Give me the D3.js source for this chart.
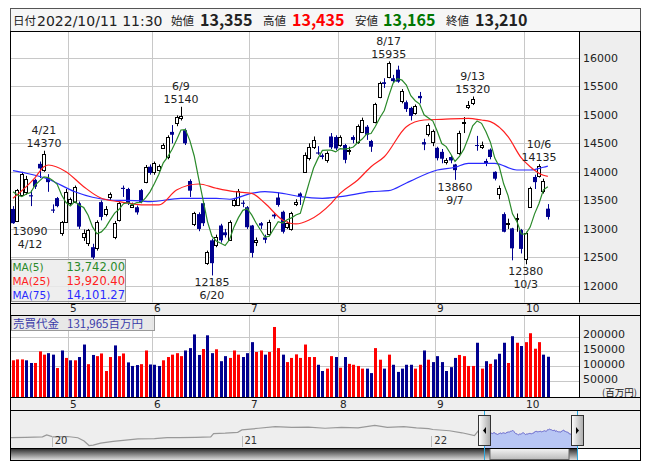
<!DOCTYPE html>
<html><head><meta charset="utf-8">
<script src="https://cdnjs.cloudflare.com/ajax/libs/d3/7.8.5/d3.min.js"></script>
<style>body{margin:0;background:#fff}svg{display:block}</style>
</head><body><svg id="c" width="653" height="470"></svg>
<script>
// ---------------- DATA ----------------
const dates = ["4/12","4/13","4/14","4/15","4/18","4/19","4/20","4/21","4/22","4/25","4/26","4/27","4/28",
"5/2","5/6","5/9","5/10","5/11","5/12","5/13","5/16","5/17","5/18","5/19","5/20","5/23","5/24","5/25","5/26","5/27","5/30","5/31",
"6/1","6/2","6/3","6/6","6/7","6/8","6/9","6/10","6/13","6/14","6/15","6/16","6/17","6/20","6/21","6/22","6/23","6/24","6/27","6/28","6/29","6/30",
"7/1","7/4","7/5","7/6","7/7","7/8","7/11","7/12","7/13","7/14","7/15","7/19","7/20","7/21","7/22","7/25","7/26","7/27","7/28","7/29",
"8/1","8/2","8/3","8/4","8/5","8/8","8/9","8/10","8/12","8/15","8/16","8/17","8/18","8/19","8/22","8/23","8/24","8/25","8/26","8/29","8/30","8/31",
"9/1","9/2","9/5","9/6","9/7","9/8","9/9","9/12","9/13","9/14","9/15","9/16","9/20","9/21","9/22","9/26","9/27","9/28","9/29","9/30",
"10/3","10/4","10/5","10/6","10/7","10/11"];
const opens = [13350,13140,13600,13650,13590,13860,14140,14030,13890,13340,13540,12930,13130,
13450,13470,13450,12860,12750,12680,12660,13470,13260,13560,12860,13160,13720,13700,13390,13380,13680,13830,14090,
13990,14030,14420,14260,14700,14860,14950,14730,13840,13090,13260,13450,12400,12800,12720,13060,12940,12810,13420,13420,13460,13380,
13060,12760,13100,12850,12910,13250,13550,13300,13030,13000,13440,13620,14000,14240,14440,14340,14290,14200,14620,14610,
14470,14470,14370,14610,14520,14700,14790,14540,14870,15310,15570,15660,15640,15790,15240,15220,15120,15030,15330,14520,14660,14520,
14420,14350,14170,14260,14130,14330,14850,15150,15200,14470,14440,14190,14390,14000,13610,13260,13100,13010,13180,12980,
12470,13380,13910,13930,13670,13355];
const highs = [13400,13700,14000,13930,13680,13880,14180,14370,13960,13430,13560,13140,13700,
13550,13760,13480,12990,13000,12740,13150,13500,13400,13640,13140,13470,13760,13720,13460,13410,13700,14120,14130,
14180,14130,14500,14640,14820,14990,15140,14760,13870,13300,13290,13470,12620,12830,12900,13090,13000,13150,13540,13700,13500,13400,
13070,12850,13120,12900,13160,13280,13640,13320,13130,13300,13520,13640,14340,14500,14620,14450,14320,14360,14680,14640,
14640,14490,14440,14640,14830,14950,14820,14560,15210,15580,15640,15935,15700,15860,15450,15250,15140,15180,15400,14580,14850,14740,
14440,14400,14240,14290,14140,14720,14960,15240,15320,14630,14530,14230,14410,14010,13760,13290,13180,13020,13270,13000,
12950,13740,13950,14135,13880,13435];
const lows = [13090,13120,13580,13600,13400,13700,13890,14000,13650,13280,13380,12880,13110,
13420,13450,13000,12790,12700,12450,12620,13150,13220,13510,12820,13130,13560,13420,13380,13250,13450,13800,13950,
13950,14000,14400,14220,14500,14800,14900,14470,13560,13050,12960,13050,12370,12185,12680,12760,12850,12790,13390,13400,13380,13000,
12500,12700,13000,12750,12880,13180,13390,12920,13000,12970,13400,13420,13980,14200,14400,14300,14220,14160,14400,14380,
14440,14150,14300,14500,14490,14680,14560,14350,14850,15290,15470,15640,15560,15560,15200,15050,14900,15000,15200,14380,14620,14450,
14200,14150,14130,14150,13860,14300,14680,15100,15170,14370,14400,14100,14220,13850,13520,12940,13000,12450,12950,12570,
12380,13370,13700,13900,13620,13165];
const closes = [13100,13680,13960,13880,13570,13740,14060,14310,13820,13320,13400,13120,13650,
13520,13730,13040,12930,12980,12500,13120,13210,13350,13610,13100,13450,13700,13450,13420,13290,13470,14090,13980,
14150,14100,14470,14610,14650,14960,14980,14500,13670,13280,13000,13100,12590,12400,12860,12800,12890,13120,13510,13670,13440,13030,
12580,12800,13060,12810,13120,13220,13420,12950,13100,13280,13470,13560,14300,14440,14560,14320,14260,14330,14430,14410,
14610,14210,14390,14560,14800,14910,14650,14440,15190,15550,15540,15910,15590,15580,15420,15100,14980,15150,15290,14480,14820,14710,
14240,14230,14210,14200,14030,14680,14870,15180,15270,14460,14470,14140,14260,13880,13720,12950,13110,12660,13200,12650,
12930,13720,13820,14110,13840,13210];
// trading value (百万円)
const volumes = [120000,123000,123000,120000,111000,111000,150000,139000,144000,139000,94000,153000,128000,
120000,120000,131000,173000,107000,138000,134000,143000,84000,131000,170000,134000,143000,113000,101000,104000,107000,153000,106000,
105000,101000,120000,131000,139000,144000,134000,153000,161000,207000,138000,158000,204000,144000,157000,117000,134000,128000,153000,139000,131000,144000,
181000,148000,153000,139000,148000,232000,161000,139000,114000,128000,140000,128000,173000,131000,131000,105000,84000,92000,134000,131000,
95000,131000,108000,105000,101000,92000,92000,77000,161000,122000,92000,139000,105000,81000,92000,105000,105000,92000,105000,153000,122000,114000,
134000,114000,84000,97000,128000,138000,134000,101000,101000,179000,92000,117000,108000,123000,142000,179000,111000,201000,179000,168000,
181000,211000,159000,181000,139000,131965];
const volUp = [1,1,1,0,0,1,1,1,0,0,1,0,1,
0,1,0,0,1,0,1,1,1,1,0,1,1,0,0,0,1,1,0,
0,0,1,1,1,1,1,0,0,0,0,1,0,0,1,0,0,1,1,1,0,0,
0,1,1,0,1,1,1,0,1,1,1,1,1,1,1,0,0,1,1,0,
1,0,1,1,1,1,0,0,1,1,0,1,0,0,0,0,0,1,1,0,1,0,
0,0,0,0,0,1,1,1,1,0,1,0,1,0,0,0,1,0,1,0,
1,1,1,1,0,0];
// moving averages: MA5 head (before enough history) and read samples for MA25 / MA75
const ma5Head = [13652,13594,13565,13612];
const ma25Idx = [0,5,7,8,12,16,20,24,30,33,37,42,46,50,54,57,61,64,67,72,74,78,81,84,89,93,97,103,106,108,112,115,117,120,121];
const ma25Val = [13537,13900,14090,14120,14003,13740,13537,13477,13420,13420,13682,13787,13712,13652,13624,13449,13157,13087,13157,13449,13624,13857,14090,14265,14791,14908,14920,14938,14908,14879,14616,14243,14090,13940,13920];
const ma75Idx = [0,3,8,14,18,22,29,31,38,46,49,54,57,61,65,70,74,81,85,89,96,100,103,109,114,117,120,121];
const ma75Val = [14020,13975,13870,13652,13555,13507,13490,13477,13537,13537,13520,13624,13652,13624,13565,13537,13565,13652,13670,13805,14032,14080,14150,14150,14032,14032,14080,14101];
const priceTicks = [12000,12500,13000,13500,14000,14500,15000,15500,16000];
const volTicks = [50000,100000,150000,200000];
const highMarks = ["4/21","6/9","8/17","9/13","10/6"];
const lowMarks = ["4/12","6/20","9/7","10/3"];
const legendRows = [["MA(5)","13,742.00","#2a8a2a"],["MA(25)","13,920.40","#ff2020"],["MA(75)","14,101.27","#2a2aff"]];
const headerItems = [["日付","2022/10/11 11:30","#222",false],["始値","13,355","#222",true],["高値","13,435","#ff0000",true],["安値","13,165","#007700",true],["終値","13,210","#222",true]];
const volLabel = ["売買代金","131,965百万円"];
// navigator (long history, decimal year -> close-level)
const navYears = [2019.786,2019.865,2019.952,2019.974,2020.007,2020.083,2020.138,2020.171,2020.197,2020.219,2020.258,2020.324,2020.39,2020.455,2020.542,2020.608,2020.674,2020.761,2020.838,2020.853,2020.914,2020.98,2021.002,2021.09,2021.178,2021.265,2021.352,2021.44,2021.526,2021.614,2021.702,2021.768,2021.855,2021.921,2021.986,2022.008,2022.095,2022.161,2022.227,2022.248];
const navVals = [10650,10900,11150,12400,11150,11400,10650,8650,5900,6150,7400,8400,9150,9900,10150,10650,10650,10900,11150,13150,13400,13900,15400,16400,17400,16900,17150,16400,16900,16650,18150,16900,17400,16650,16150,15650,14900,13650,11900,14900];
const navYearLabels = [2020,2021,2022];
const navSelStart = 2022.277, navSelEnd = 2022.767;

// ---------------- LAYOUT ----------------
const svg = d3.select("#c");
const L = 11, R = 579, RR = 640.5;
const pTop = 32, pBot = 302.5, m1Bot = 315, vTop = 315, vBot = 397, m2Bot = 410;
const navR = 577;
const N = dates.length;
const x = d3.scaleLinear().domain([-0.45, 128.05]).range([L, R]);
const y = d3.scaleLinear().domain([12000, 16000]).range([286, 57.7]);
const yv = d3.scaleLinear().domain([0, 200000]).range([396, 336.5]);
const FONT = "'DejaVu Sans', Verdana, sans-serif";
const JFONT = "'Noto Sans CJK JP', 'DejaVu Sans', sans-serif";
const BLUE = "#00008f", RED = "#ff0000";

// header
svg.append("rect").attr("x",10.5).attr("y",8.5).attr("width",630).attr("height",23).attr("fill","#f6f6f6").attr("stroke","#555");
const hx = [[13,37],[171,200],[263,292],[355,383],[446,475]];
headerItems.forEach((h,k)=>{
  svg.append("text").attr("x",hx[k][0]).attr("y",25).attr("font-family",JFONT).attr("font-size",11.5).attr("fill","#222").text(h[0]);
  svg.append("text").attr("x",hx[k][1]).attr("y",25.5).attr("font-family",h[3]?JFONT:FONT).attr("font-size",h[3]?16:14)
    .attr("font-weight",h[3]?"bold":"normal").attr("fill",h[2]).text(h[1]);
});

// backgrounds
svg.append("rect").attr("x",L).attr("y",pTop).attr("width",R-L).attr("height",vBot-pTop).attr("fill","#fff");
svg.append("rect").attr("x",R).attr("y",pTop).attr("width",RR-R).attr("height",vBot-pTop).attr("fill","#eeeeee");
[[pBot,m1Bot],[vBot,m2Bot]].forEach(([a,b])=>svg.append("rect").attr("x",L).attr("y",a).attr("width",RR-L).attr("height",b-a).attr("fill","#eeeeee"));

// month boundaries
const monthStarts = [];
dates.forEach((d,i)=>{ if(i>0 && d.split("/")[0]!==dates[i-1].split("/")[0]) monthStarts.push(i); });
const gx = i => Math.round(x(i) - 2.2) + 0.5;
const grid = svg.append("g").attr("stroke","#c8c8c8").attr("stroke-width",1);
monthStarts.forEach(i=>{
  grid.append("line").attr("x1",gx(i)).attr("x2",gx(i)).attr("y1",pTop).attr("y2",pBot);
  grid.append("line").attr("x1",gx(i)).attr("x2",gx(i)).attr("y1",vTop).attr("y2",vBot);
});
priceTicks.forEach(t=>grid.append("line").attr("x1",L).attr("x2",R).attr("y1",Math.round(y(t))+0.5).attr("y2",Math.round(y(t))+0.5));
volTicks.forEach(t=>grid.append("line").attr("x1",L).attr("x2",R).attr("y1",Math.round(yv(t))+0.5).attr("y2",Math.round(yv(t))+0.5));

// axis labels
const ax = svg.append("g").attr("font-family",FONT).attr("font-size",11).attr("fill","#222");
priceTicks.forEach(t=>ax.append("text").attr("x",583).attr("y",y(t)).attr("dy","0.36em").text(t));
volTicks.forEach(t=>ax.append("text").attr("x",583).attr("y",yv(t)-2).attr("dy","0.36em").text(t));
ax.append("text").attr("x",637).attr("y",395.5).attr("text-anchor","end").attr("font-family",JFONT).attr("font-size",9.5).text("(百万円)");
monthStarts.forEach(i=>{
  const m = dates[i].split("/")[0];
  ax.append("text").attr("x",gx(i)+1.5).attr("y",311.5).attr("font-size",10.5).text(m);
  ax.append("text").attr("x",gx(i)+1.5).attr("y",407.5).attr("font-size",10.5).text(m);
});

// candles
const cg = svg.append("g");
for(let i=0;i<N;i++){
  const xr = Math.round(x(i));
  const up = closes[i] >= opens[i];
  const col = up ? "#000" : BLUE;
  cg.append("line").attr("x1",xr+0.5).attr("x2",xr+0.5).attr("y1",y(highs[i])).attr("y2",y(lows[i])).attr("stroke",col);
  const yt = y(Math.max(opens[i],closes[i])), yb = y(Math.min(opens[i],closes[i]));
  if(up){
    cg.append("rect").attr("x",xr-1.5).attr("y",Math.round(yt)+0.5).attr("width",3).attr("height",Math.max(1,Math.round(yb-yt))).attr("fill","#fff").attr("stroke","#000");
  } else {
    cg.append("rect").attr("x",xr-2).attr("y",yt).attr("width",4).attr("height",Math.max(1,yb-yt)).attr("fill",BLUE);
  }
}
// moving averages
const ma5 = closes.map((c,i)=> i<4 ? ma5Head[i] : d3.mean(closes.slice(i-4,i+1)));
const line = d3.line().x(d=>x(d[0])).y(d=>y(d[1]));
const sm = d3.line().x(d=>x(d[0])).y(d=>y(d[1])).curve(d3.curveMonotoneX);
svg.append("path").attr("d",sm(ma75Idx.map((k,j)=>[k,ma75Val[j]]))).attr("fill","none").attr("stroke","#2a2aff").attr("stroke-width",1.2);
svg.append("path").attr("d",sm(ma25Idx.map((k,j)=>[k,ma25Val[j]]))).attr("fill","none").attr("stroke","#ff2020").attr("stroke-width",1.2);
svg.append("path").attr("d",line(ma5.map((v,i)=>[i,v]))).attr("fill","none").attr("stroke","#2a8a2a").attr("stroke-width",1.2);

// annotations
const an = svg.append("g").attr("font-family",FONT).attr("font-size",11).attr("fill","#222").attr("text-anchor","middle");
const clampX = (cx)=> Math.max(L+19, Math.min(R-19, cx));
highMarks.forEach(d=>{ const i=dates.indexOf(d); const cx=clampX(x(i)); const yy=y(highs[i]);
  an.append("text").attr("x",cx).attr("y",yy-20.5).attr("dy","0.36em").text(d);
  an.append("text").attr("x",cx).attr("y",yy-7.5).attr("dy","0.36em").text(highs[i]); });
lowMarks.forEach(d=>{ const i=dates.indexOf(d); const cx=clampX(x(i)); const yy=y(lows[i]);
  an.append("text").attr("x",cx).attr("y",yy+7).attr("dy","0.36em").text(lows[i]);
  an.append("text").attr("x",cx).attr("y",yy+20).attr("dy","0.36em").text(d); });

// MA legend
svg.append("rect").attr("x",11.5).attr("y",259.5).attr("width",114).attr("height",42).attr("fill","rgba(235,235,235,0.85)").attr("stroke","#999");
const lg = svg.append("g").attr("font-family",FONT).attr("font-size",11.5);
legendRows.forEach((r,k)=>{
  lg.append("text").attr("x",12.5).attr("y",267+k*14).attr("dy","0.36em").attr("fill",r[2]).attr("font-size",10.5).text(r[0]);
  lg.append("text").attr("x",125).attr("y",267+k*14).attr("dy","0.36em").attr("text-anchor","end").attr("fill",r[2]).text(r[1]);
});

// volume bars
const vg = svg.append("g");
for(let i=0;i<N;i++){
  const xr = Math.round(x(i));
  vg.append("rect").attr("x",xr-1).attr("width",3).attr("y",yv(volumes[i])).attr("height",vBot-yv(volumes[i])).attr("fill",volUp[i]?RED:BLUE);
}
svg.append("rect").attr("x",11.5).attr("y",315.5).attr("width",143).attr("height",15).attr("fill","rgba(230,230,230,0.9)").attr("stroke","#999");
const vt = svg.append("text").attr("x",13).attr("y",328).attr("font-family",JFONT).attr("font-size",11.5).attr("fill","#3a3aa8");
vt.append("tspan").text(volLabel[0]);
vt.append("tspan").attr("dx",8).text(volLabel[1]);

// frame lines
const fr = svg.append("g").attr("stroke","#000").attr("fill","none");
fr.append("rect").attr("x",10.5).attr("y",31.5).attr("width",630).attr("height",429);
[pBot,m1Bot,vBot,m2Bot].forEach(v=>fr.append("line").attr("x1",10.5).attr("x2",RR).attr("y1",Math.round(v)+0.5).attr("y2",Math.round(v)+0.5));
fr.append("line").attr("x1",R+0.5).attr("x2",R+0.5).attr("y1",pTop).attr("y2",pBot);
fr.append("line").attr("x1",R+0.5).attr("x2",R+0.5).attr("y1",vTop).attr("y2",vBot);

// navigator
const nx = d3.scaleLinear().domain([2019.786, navSelEnd]).range([11, navR]);
const ny = d3.scaleLinear().domain([5000, 19000]).range([447, 424]);
svg.append("rect").attr("x",11).attr("y",411).attr("width",629).attr("height",37).attr("fill","#eeeeee");
const selYears = d3.range(N).map(i=> navSelStart + (navSelEnd-navSelStart)*i/(N-1));
const area = d3.area().x(d=>nx(d[0])).y0(448).y1(d=>ny(d[1]));
svg.append("path").attr("d",area(selYears.map((t,i)=>[t,closes[i]]))).attr("fill","#b8c6f4");
const nl = d3.line().x(d=>nx(d[0])).y(d=>ny(d[1]));
svg.append("path").attr("d",nl(navYears.map((t,i)=>[t,navVals[i]]))).attr("fill","none").attr("stroke","#999").attr("stroke-width",1.2);
svg.append("path").attr("d",nl(selYears.map((t,i)=>[t,closes[i]]))).attr("fill","none").attr("stroke","#6666cc").attr("stroke-width",1);
const ng = svg.append("g").attr("font-family",FONT).attr("font-size",10).attr("fill","#333");
navYearLabels.forEach(yr=>{
  ng.append("line").attr("x1",Math.round(nx(yr))+0.5).attr("x2",Math.round(nx(yr))+0.5).attr("y1",436).attr("y2",447).attr("stroke","#bbb");
  ng.append("text").attr("x",nx(yr)+3).attr("y",444).text(String(yr).slice(2));
});
// scrollbar
const defs = svg.append("defs");
const g1 = defs.append("linearGradient").attr("id","sb").attr("x1",0).attr("x2",0).attr("y1",0).attr("y2",1);
g1.append("stop").attr("offset","0").attr("stop-color","#222");
g1.append("stop").attr("offset","1").attr("stop-color","#ddd");
const g2 = defs.append("linearGradient").attr("id","th").attr("x1",0).attr("x2",0).attr("y1",0).attr("y2",1);
g2.append("stop").attr("offset","0").attr("stop-color","#f4f4f4");
g2.append("stop").attr("offset","1").attr("stop-color","#bbb");
const g3 = defs.append("linearGradient").attr("id","hd").attr("x1",0).attr("x2",1).attr("y1",0).attr("y2",0);
g3.append("stop").attr("offset","0").attr("stop-color","#fff");
g3.append("stop").attr("offset","1").attr("stop-color","#aaa");
svg.append("rect").attr("x",11).attr("y",448).attr("width",navR-11).attr("height",12).attr("fill","url(#sb)");
svg.append("rect").attr("x",nx(navSelStart)+6).attr("y",448.5).attr("width",nx(navSelEnd)-nx(navSelStart)-14).attr("height",11).attr("fill","url(#th)").attr("stroke","#666");
svg.append("line").attr("x1",10.5).attr("x2",RR).attr("y1",448.5).attr("y2",448.5).attr("stroke","#000");
[navSelStart, navSelEnd].forEach((t,k)=>{
  const cx = Math.round(nx(t));
  svg.append("line").attr("x1",cx+0.5).attr("x2",cx+0.5).attr("y1",411).attr("y2",460).attr("stroke","#2aa8e0");
  svg.append("rect").attr("x",cx-5.5).attr("y",415.5).attr("width",12).attr("height",30).attr("fill","url(#hd)").attr("stroke","#333");
  const tri = k===0 ? `M${cx+2},427 L${cx-1},430.5 L${cx+2},434 Z` : `M${cx-1},427 L${cx+2},430.5 L${cx-1},434 Z`;
  svg.append("path").attr("d",tri).attr("fill","#000");
});
svg.append("rect").attr("x",10.5).attr("y",410.5).attr("width",630).attr("height",50).attr("fill","none").attr("stroke","#000");
</script></body></html>
